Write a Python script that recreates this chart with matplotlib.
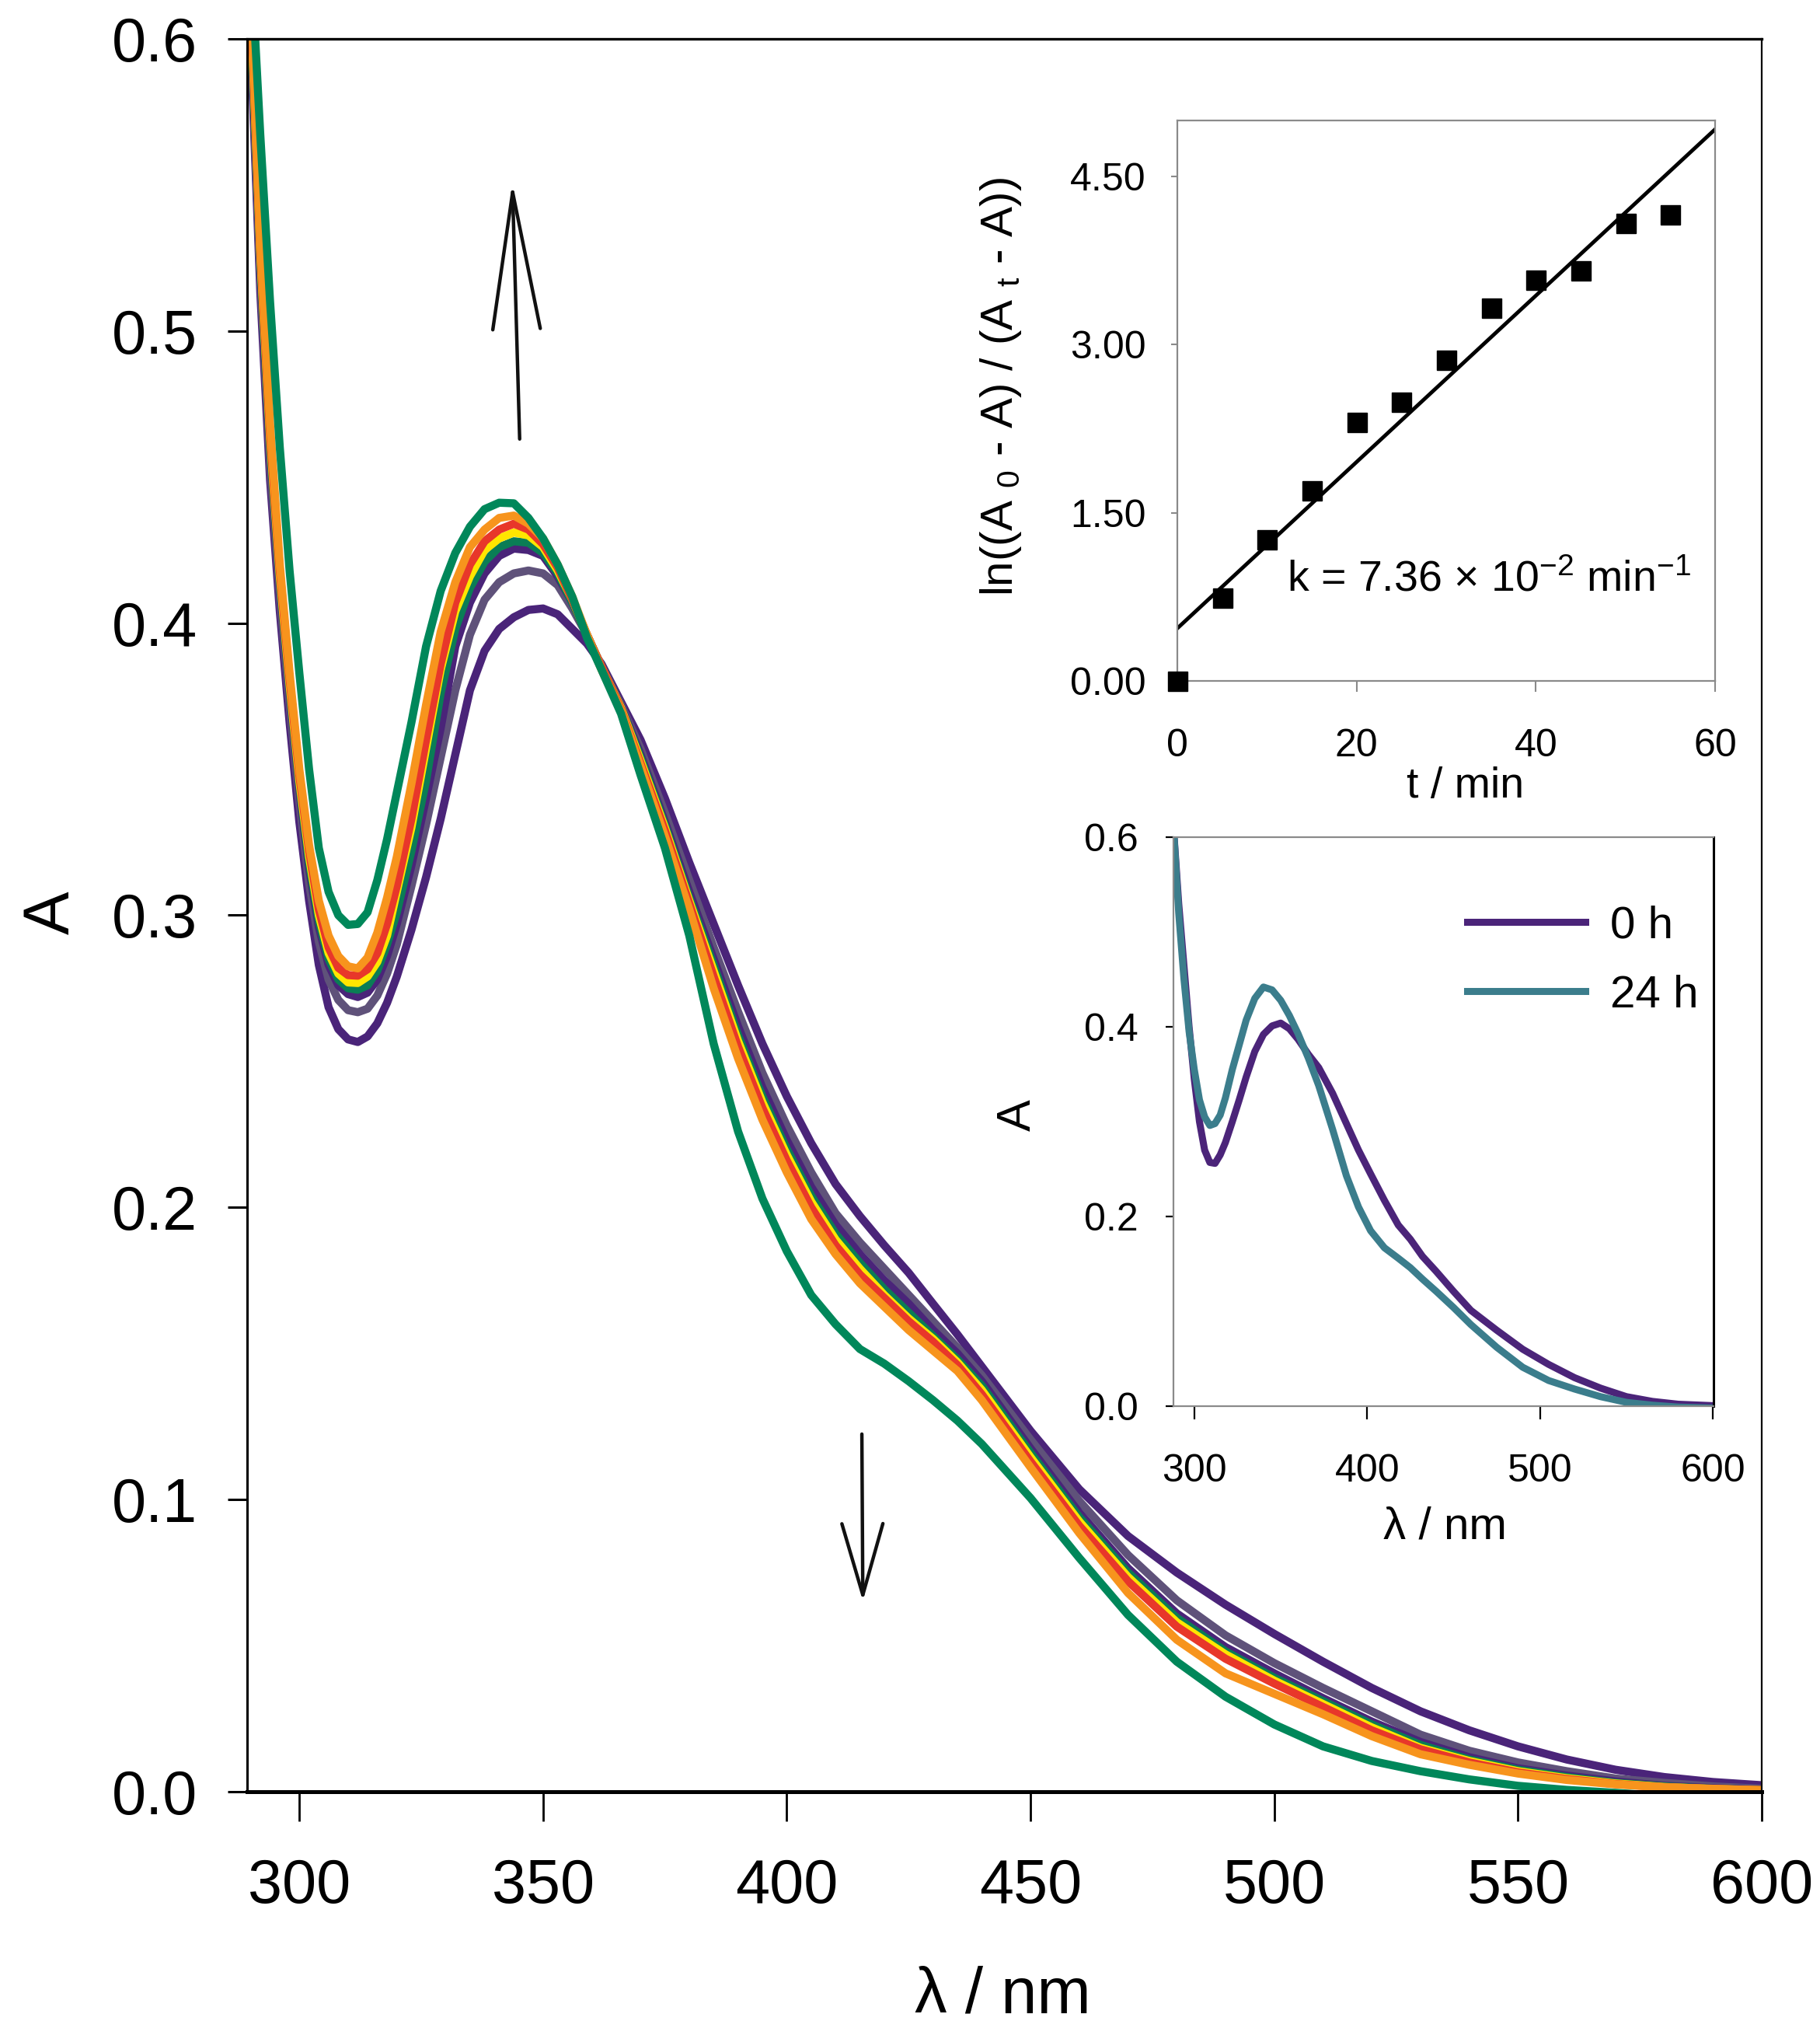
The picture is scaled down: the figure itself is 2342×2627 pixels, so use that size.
import matplotlib.pyplot as plt

plt.rcParams['font.family'] = ['Liberation Sans', 'DejaVu Sans']
plt.rcParams['mathtext.fontset'] = 'custom'
plt.rcParams['mathtext.rm'] = 'Liberation Sans'
plt.rcParams['mathtext.it'] = 'Liberation Sans:italic'

# --- main spectra ---
wl = [289, 290, 292, 294, 296, 298, 300, 302, 304, 306, 308, 310, 312, 314, 316, 318, 320,
      323, 326, 329, 332, 335, 338, 341, 344, 347, 350, 353, 356, 359, 362,
      366, 370, 375, 380, 385, 390, 395, 400, 405, 410, 415, 420, 425, 430, 435, 440,
      450, 460, 470, 480, 490, 500, 510, 520, 530, 540, 550, 560, 570, 580, 590, 600]

a_0h = [0.65, 0.60, 0.513, 0.449, 0.404, 0.366, 0.332, 0.305, 0.283, 0.2685, 0.261, 0.2575, 0.2566, 0.2585, 0.263, 0.270, 0.279,
        0.295, 0.313, 0.333, 0.355, 0.377, 0.3905, 0.398, 0.402, 0.4045, 0.405, 0.403, 0.398, 0.393, 0.386,
        0.373, 0.360, 0.340, 0.318, 0.297, 0.276, 0.256, 0.238, 0.222, 0.208, 0.197, 0.187, 0.1776, 0.167, 0.1565, 0.1455,
        0.1235, 0.1035, 0.0875, 0.075, 0.064, 0.054, 0.0445, 0.0355, 0.0275, 0.021, 0.0155, 0.011, 0.0075, 0.005, 0.0033, 0.0022]
a_gray = [0.655, 0.605, 0.518, 0.454, 0.409, 0.372, 0.339, 0.311, 0.291, 0.278, 0.271, 0.2675, 0.2668, 0.268, 0.2725, 0.280, 0.290,
          0.310, 0.331, 0.354, 0.377, 0.396, 0.408, 0.414, 0.417, 0.418, 0.417, 0.413, 0.405, 0.396, 0.385,
          0.372, 0.357, 0.335, 0.312, 0.289, 0.267, 0.246, 0.228, 0.212, 0.198, 0.188, 0.179, 0.170, 0.161, 0.152, 0.1425,
          0.1205, 0.0995, 0.081, 0.0655, 0.0535, 0.044, 0.0355, 0.0275, 0.0195, 0.014, 0.010, 0.007, 0.0045, 0.003, 0.0018, 0.001]
a_purple2 = [0.658, 0.608, 0.522, 0.459, 0.413, 0.376, 0.343, 0.316, 0.296, 0.283, 0.276, 0.273, 0.272, 0.2735, 0.278, 0.286, 0.297,
             0.317, 0.340, 0.364, 0.392, 0.407, 0.417, 0.423, 0.4255, 0.425, 0.423, 0.416, 0.407, 0.396, 0.385,
             0.3715, 0.355, 0.332, 0.308, 0.285, 0.262, 0.241, 0.223, 0.207, 0.194, 0.184, 0.175, 0.167, 0.158, 0.150, 0.1405,
             0.1175, 0.0955, 0.0765, 0.061, 0.0495, 0.0405, 0.032, 0.024, 0.017, 0.0118, 0.008, 0.0055, 0.0035, 0.002, 0.0012, 0.0006]
a_green2 = [0.66, 0.61, 0.524, 0.461, 0.415, 0.378, 0.345, 0.318, 0.298, 0.285, 0.278, 0.275, 0.2745, 0.276, 0.281, 0.290, 0.301,
            0.322, 0.346, 0.376, 0.398, 0.412, 0.421, 0.426, 0.428, 0.4275, 0.424, 0.417, 0.407, 0.396, 0.385,
            0.371, 0.354, 0.331, 0.306, 0.283, 0.259, 0.238, 0.220, 0.204, 0.191, 0.181, 0.172, 0.164, 0.156, 0.148, 0.139,
            0.116, 0.094, 0.075, 0.0595, 0.048, 0.039, 0.031, 0.023, 0.016, 0.011, 0.0075, 0.005, 0.003, 0.0018, 0.001, 0.0005]
a_yellow = [0.662, 0.613, 0.526, 0.463, 0.416, 0.379, 0.346, 0.320, 0.300, 0.287, 0.280, 0.277, 0.2768, 0.279, 0.284, 0.293, 0.308,
            0.330, 0.357, 0.384, 0.404, 0.416, 0.425, 0.429, 0.431, 0.430, 0.426, 0.418, 0.408, 0.396, 0.385,
            0.371, 0.353, 0.330, 0.305, 0.281, 0.257, 0.236, 0.218, 0.202, 0.189, 0.179, 0.170, 0.162, 0.155, 0.147, 0.1375,
            0.1145, 0.0925, 0.0735, 0.058, 0.047, 0.038, 0.030, 0.022, 0.015, 0.0105, 0.007, 0.0046, 0.0028, 0.0016, 0.0009, 0.0005]
a_red = [0.664, 0.616, 0.528, 0.465, 0.418, 0.381, 0.348, 0.322, 0.302, 0.289, 0.282, 0.2795, 0.2793, 0.2815, 0.287, 0.297, 0.310,
         0.333, 0.360, 0.386, 0.407, 0.420, 0.428, 0.432, 0.434, 0.432, 0.427, 0.419, 0.408, 0.396, 0.385,
         0.3705, 0.352, 0.329, 0.304, 0.279, 0.255, 0.234, 0.216, 0.200, 0.187, 0.177, 0.169, 0.161, 0.154, 0.146, 0.136,
         0.113, 0.091, 0.072, 0.0565, 0.0455, 0.037, 0.029, 0.021, 0.0145, 0.010, 0.0066, 0.0043, 0.0026, 0.0015, 0.0009, 0.0005]
a_orange = [0.666, 0.62, 0.53, 0.468, 0.42, 0.383, 0.350, 0.324, 0.305, 0.293, 0.286, 0.2825, 0.2818, 0.2855, 0.294, 0.306, 0.320,
            0.345, 0.372, 0.397, 0.414, 0.426, 0.432, 0.436, 0.4368, 0.434, 0.429, 0.420, 0.409, 0.396, 0.384,
            0.370, 0.351, 0.327, 0.302, 0.275, 0.251, 0.230, 0.212, 0.196, 0.184, 0.174, 0.166, 0.158, 0.151, 0.144, 0.134,
            0.111, 0.0885, 0.068, 0.052, 0.0405, 0.0335, 0.0265, 0.019, 0.0128, 0.0092, 0.0062, 0.004, 0.0025, 0.0015, 0.001, 0.0005]
a_24h = [0.67, 0.63, 0.567, 0.51, 0.46, 0.418, 0.383, 0.350, 0.323, 0.308, 0.300, 0.2967, 0.297, 0.301, 0.312, 0.326, 0.342,
         0.366, 0.392, 0.411, 0.424, 0.433, 0.439, 0.4412, 0.441, 0.436, 0.429, 0.420, 0.409, 0.395, 0.384,
         0.369, 0.348, 0.323, 0.293, 0.256, 0.226, 0.203, 0.185, 0.170, 0.160, 0.1515, 0.1465, 0.1405, 0.134, 0.127, 0.119,
         0.1005, 0.080, 0.0605, 0.0445, 0.0325, 0.023, 0.0155, 0.0105, 0.007, 0.0042, 0.002, 0.0006, -0.0004, -0.0015, -0.003, -0.004]

spectra = [a_0h, a_gray, a_purple2, a_green2, a_yellow, a_red, a_orange, a_24h]
colors = ['#4a2479', '#5f527a', '#4a2479', '#0a7d55', '#ffe600', '#e8372a', '#f7941d', '#00875a']

# --- kinetics inset ---
t_min = [0, 5, 10, 15, 20, 25, 30, 35, 40, 45, 50, 55]
ln_ratio = [0.0, 0.74, 1.26, 1.70, 2.31, 2.49, 2.86, 3.33, 3.58, 3.66, 4.08, 4.16]
fit_t = [0, 60]
fit_y = [0.47, 4.92]

# --- 0 h / 24 h inset ---
wl_in = [288, 291, 294, 297, 300, 303, 306, 309, 312, 315, 318, 322, 326, 330, 335, 340, 345, 350, 355, 360,
         366, 372, 380, 388, 395, 402, 410, 418, 425, 432, 440, 450, 460, 475, 490, 505, 520, 535, 550, 565, 580, 600]
in_0h = [0.61, 0.53, 0.465, 0.40, 0.345, 0.300, 0.270, 0.257, 0.256, 0.265, 0.278, 0.300, 0.323, 0.347, 0.374, 0.392, 0.401, 0.404, 0.398, 0.387,
         0.371, 0.357, 0.330, 0.298, 0.270, 0.245, 0.217, 0.191, 0.176, 0.158, 0.142, 0.121, 0.101, 0.080, 0.060, 0.044, 0.030, 0.019, 0.010, 0.005, 0.002, 0.0005]
in_24h = [0.61, 0.52, 0.451, 0.395, 0.355, 0.323, 0.305, 0.296, 0.298, 0.307, 0.325, 0.355, 0.381, 0.407, 0.430, 0.442, 0.439, 0.428, 0.412, 0.393,
          0.367, 0.338, 0.292, 0.243, 0.210, 0.185, 0.167, 0.156, 0.146, 0.134, 0.121, 0.104, 0.086, 0.062, 0.041, 0.027, 0.018, 0.010, 0.004, 0.001, -0.001, -0.002]

fig = plt.figure(figsize=(23.42, 26.27), dpi=100)

# main plot
ax = fig.add_axes([0.1358, 0.1226, 0.8322, 0.8584])
for y, c in zip(spectra, colors):
    ax.plot(wl, y, color=c, lw=7.5)
ax.set_xlim(289.3, 600)
ax.set_ylim(0, 0.6)
ax.set_xticks(range(300, 601, 50))
ax.set_yticks([0.0, 0.1, 0.2, 0.3, 0.4, 0.5, 0.6])
ax.yaxis.set_major_formatter('{x:.1f}')
ax.tick_params(axis='x', direction='out', length=27, width=2, pad=34, labelsize=57)
ax.tick_params(axis='y', direction='out', length=18, width=2.2, pad=28, labelsize=57)
ax.spines['bottom'].set_linewidth(3.6)
ax.spines['top'].set_linewidth(2.4)
ax.spines['left'].set_linewidth(2.2)
ax.spines['right'].set_linewidth(1.6)
fig.text(0.0286, 0.553, 'A', rotation=90, ha='center', va='center', fontsize=60)
fig.text(0.5508, 0.0225, 'λ / nm', ha='center', va='center', fontsize=60)

# arrows
ax.annotate('', xy=(343.7, 0.551), xytext=(345.2, 0.463),
            arrowprops=dict(arrowstyle='->,head_length=12.7,head_width=2.2', mutation_scale=10,
                            lw=3.2, color='#111111', shrinkA=0, shrinkB=0))
ax.annotate('', xy=(415.6, 0.0652), xytext=(415.4, 0.1224),
            arrowprops=dict(arrowstyle='->,head_length=6.6,head_width=1.9', mutation_scale=10,
                            lw=3.2, color='#111111', shrinkA=0, shrinkB=0))

# kinetics inset
ax1 = fig.add_axes([0.6469, 0.6665, 0.2955, 0.2746])
ax1.plot(fit_t, fit_y, color='black', lw=3.5)
ax1.plot(t_min, ln_ratio, 's', color='black', ms=18, clip_on=False, zorder=3)
ax1.set_xlim(0, 60)
ax1.set_ylim(0, 5.0)
ax1.set_xticks([0, 20, 40, 60])
ax1.set_yticks([0.0, 1.5, 3.0, 4.5])
ax1.yaxis.set_major_formatter('{x:.2f}')
for s in ax1.spines.values():
    s.set_color('#8a8a8a')
    s.set_linewidth(1.6)
ax1.tick_params(axis='x', length=10, width=1.5, color='#8a8a8a', pad=34, labelsize=36)
ax1.tick_params(axis='y', length=6, width=1.5, color='#8a8a8a', pad=23, labelsize=36)
ax1.text(12.2, 0.80, r'k = 7.36 × 10$^{-2}$ min$^{-1}$', fontsize=40, va='baseline')
fig.text(0.550, 0.8108, r'ln((A $_\mathregular{0}$ - A) / (A $_\mathregular{t}$ - A))', rotation=90,
         ha='center', va='center', fontsize=42)
fig.text(0.8049, 0.6148, 't / min', ha='center', va='center', fontsize=40)

# 0 h / 24 h inset
ax2 = fig.add_axes([0.6448, 0.3114, 0.2968, 0.2786])
ax2.plot(wl_in, in_0h, color='#4b2479', lw=6.5, label='0 h')
ax2.plot(wl_in, in_24h, color='#3b7d8c', lw=6.5, label='24 h')
ax2.set_xlim(288, 600.5)
ax2.set_ylim(0, 0.6)
ax2.set_xticks([300, 400, 500, 600])
ax2.set_yticks([0.0, 0.2, 0.4, 0.6])
ax2.yaxis.set_major_formatter('{x:.1f}')
for k in ['top', 'left', 'bottom']:
    ax2.spines[k].set_color('#8a8a8a')
    ax2.spines[k].set_linewidth(1.6)
ax2.spines['right'].set_linewidth(2.2)
ax2.tick_params(axis='x', length=12, width=1.6, pad=32, labelsize=36)
ax2.tick_params(axis='y', length=7, width=1.6, pad=26, labelsize=36)
ax2.legend(loc='upper left', bbox_to_anchor=(0.544, 0.88), frameon=False, fontsize=42,
           handlelength=2.6, handletextpad=0.55, labelspacing=0.6, borderpad=0, borderaxespad=0)
fig.text(0.7938, 0.252, 'λ / nm', ha='center', va='center', fontsize=42)
fig.text(0.5594, 0.4538, 'A', rotation=90, ha='center', va='center', fontsize=44)

fig.savefig('out.png', dpi=100)
